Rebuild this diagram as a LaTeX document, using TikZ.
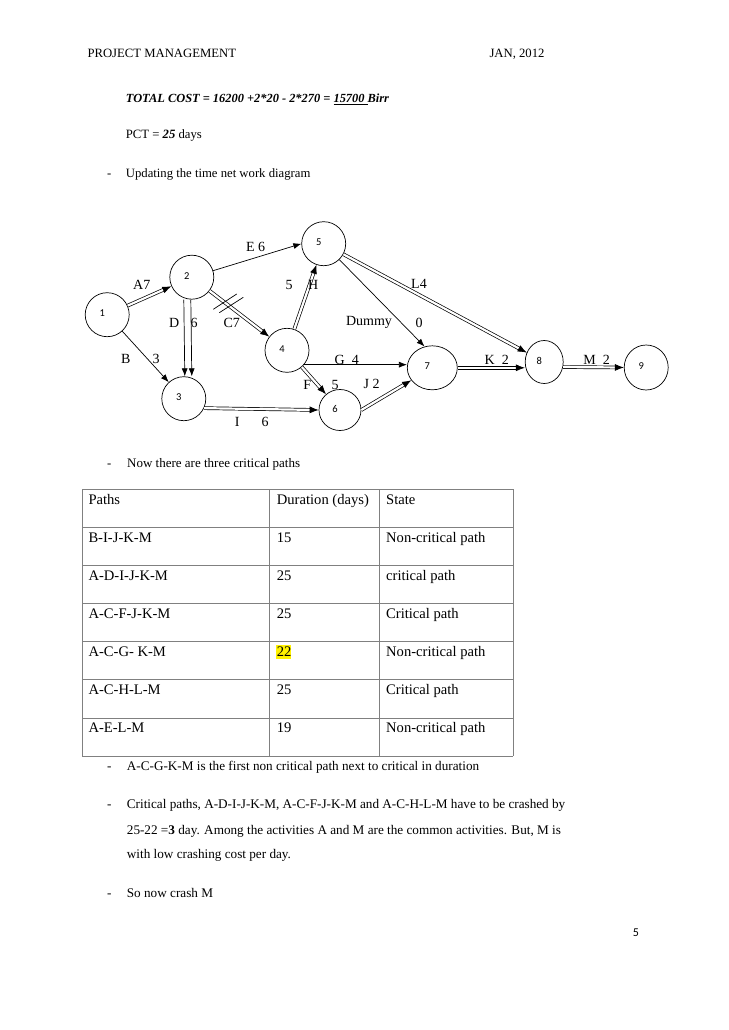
\documentclass[tikz,border=0pt]{standalone}
\usepackage{fontspec}
\setmainfont{Liberation Serif}
\newfontfamily\calfont{Carlito}
\usetikzlibrary{arrows.meta,shapes.geometric}

\tikzset{
  evt/.style={ellipse, draw, line width=0.7pt, minimum width=44pt, minimum height=44pt, inner sep=0pt},
  num/.style={font=\calfont\fontsize{10.5}{12}\selectfont, xshift=-5pt, yshift=1.5pt},
  act/.style={draw, line width=0.7pt, -{Latex[length=8pt,width=6pt]}},
  crit/.style={draw, line width=0.7pt, double, double distance=2.2pt, -{Latex[length=9pt,width=7pt]}},
  elbl/.style={font=\fontsize{14}{16}\selectfont, inner sep=0pt},
  txt/.style={font=\fontsize{12.7}{15}\selectfont, anchor=base west, inner sep=0pt},
  tbl/.style={txt, font=\fontsize{14.6}{17}\selectfont},
  body/.style={txt, font=\fontsize{13.2}{16}\selectfont},
  grid/.style={draw=black!50, line width=0.8pt},
}

\begin{document}
\begin{tikzpicture}[x=1pt,y=-1pt]
    \fill[white] (0,0) rectangle (728,1030);
    \useasboundingbox (0,0) rectangle (728,1030);

    \node[txt] (hdl) at (87.3,58) {PROJECT MANAGEMENT};
    \node[txt] (hdr) at (489.3,58) {JAN, 2012};
    \node[txt, font=\fontsize{12.4}{15}\selectfont] (cost) at (125.7,103) {\bfseries\itshape TOTAL COST = 16200 +2*20 - 2*270 = \underline{15700\ }Birr};
    \node[txt] (pct) at (125.7,139) {PCT = \textbf{\textit{25}} days};
    \node[txt] (b1) at (107,177) {-};
    \node[txt] (upd) at (125.7,177) {Updating the time net work diagram};

    % network
    \node[evt, label={[num]center:1}] (n1) at (107.2,314.7) {};
    \node[evt, label={[num]center:2}] (n2) at (191.8,277.2) {};
    \node[evt, label={[num]center:3}] (n3) at (183.8,398.7) {};
    \node[evt, label={[num]center:4}] (n4) at (287,350.3) {};
    \node[evt, label={[num]center:5}] (n5) at (323.7,243.7) {};
    \node[evt, minimum width=42pt, minimum height=41pt, label={[num]center:6}] (n6) at (340,410) {};
    \node[evt, minimum width=50pt, label={[num]center:7}] (n7) at (432.3,367.8) {};
    \node[evt, minimum width=38pt, minimum height=43pt, label={[num]center:8}] (n8) at (544.2,362) {};
    \node[evt, minimum height=45pt, label={[num]center:9}] (n9) at (646.2,367.5) {};

    \draw[crit] (n1) -- (n2);
    \draw[act] (n1) -- (n3);
    \draw[act] (n2) -- (n5.west);
    \draw[act] ([xshift=-8pt]n2.south) -- ([xshift=1pt]n3.north);
    \draw[act] ([xshift=-1pt]n2.south) -- ([xshift=8pt]n3.north);
    \draw[crit] (n2) -- (n4);
    \draw[crit] (n4) -- (n5);
    \draw[act] (n4.-40) -- (n4.-40 -| n7.west);
    \draw[crit] (n4) -- (n6);
    \draw[crit] (n3.-25) -- (n6.west);
    \draw[crit] (n6.east) -- (n7);
    \draw[act] (n5) -- (n7.110);
    \draw[crit] (n5) -- (n8);
    \draw[crit] (n7.east) -- ([yshift=-5.8pt]n8.west);
    \draw[crit] (n8.-15) -- (n9.west);

    % crashed C
    \draw[line width=0.7pt] (213.3,309.3) -- (236.7,294);
    \draw[line width=0.7pt] (219.3,312.7) -- (243.3,297.3);

    \node[elbl] (lA) at (141.7,285) {A7};
    \node[elbl] (lE) at (255.7,247.3) {E 6};
    \node[elbl] (lD) at (174.3,322.7) {D};
    \node[elbl] (lDt) at (194,322.7) {6};
    \node[elbl] (lC) at (231.7,322.7) {C7};
    \node[elbl] (lHt) at (289,285) {5};
    \node[elbl] (lH) at (313.3,285) {H};
    \node[elbl] (lB) at (125.7,359) {B};
    \node[elbl] (lBt) at (156,359) {3};
    \node[elbl] (lG) at (346.7,360) {G\ \ 4};
    \node[elbl] (lF) at (307.3,385) {F};
    \node[elbl] (lFt) at (335,385) {5};
    \node[elbl] (lJ) at (371.7,384.3) {J 2};
    \node[elbl] (lDu) at (369,322.7) {Dummy};
    \node[elbl] (lDut) at (419,322.7) {0};
    \node[elbl] (lL) at (419,284) {L4};
    \node[elbl] (lK) at (496.7,360) {K\ \ 2};
    \node[elbl] (lM) at (596.7,360) {M\ \ 2};
    \node[elbl] (lI) at (237.3,421.7) {I};
    \node[elbl] (lIt) at (265,421.7) {6};

    \node[txt] (b2) at (107,467) {-};
    \node[txt, font=\fontsize{13}{16}\selectfont] (now) at (127,467) {Now there are three critical paths};

    % table
    \fill[yellow] (275.7,645) rectangle (291,659.3);
    \foreach \y in {489,527.1,565.3,603.4,641.6,679.7,717.9,756}
        \draw[grid] (82,\y) -- (513,\y);
    \foreach \x in {82,269,379,513}
        \draw[grid] (\x,489) -- (\x,756);
    \foreach \p/\d/\s [count=\i from 0] in {Paths/Duration (days)/State,
        B-I-J-K-M/15/Non-critical path, A-D-I-J-K-M/25/critical path,
        A-C-F-J-K-M/25/Critical path, A-C-G- K-M/22/Non-critical path,
        A-C-H-L-M/25/Critical path, A-E-L-M/19/Non-critical path}{
        \node[tbl] (p\i) at (88.3,504+38.14*\i) {\p};
        \node[tbl] (d\i) at (276.7,504+38.14*\i) {\d};
        \node[tbl] (s\i) at (386,504+38.14*\i) {\s};
    }

    \node[body] (b3) at (107,770) {-};
    \node[body] (t1) at (126.7,770) {A-C-G-K-M is the first non critical path next to critical in duration};
    \node[body] (b4) at (107,808) {-};
    \node[body] (t2) at (126.7,808) {Critical paths, A-D-I-J-K-M, A-C-F-J-K-M and A-C-H-L-M have to be crashed by};
    \node[body] (t3) at (126.7,834) {25-22 =\textbf{3} day. Among the activities A and M are the common activities. But, M is};
    \node[body] (t4) at (126.7,858) {with low crashing cost per day.};
    \node[body] (b5) at (107,897) {-};
    \node[body] (t5) at (126.7,897) {So now crash M};

    \node[font=\calfont\fontsize{12}{14}\selectfont, inner sep=0pt] (pg) at (636,933) {5};
\end{tikzpicture}
\end{document}
